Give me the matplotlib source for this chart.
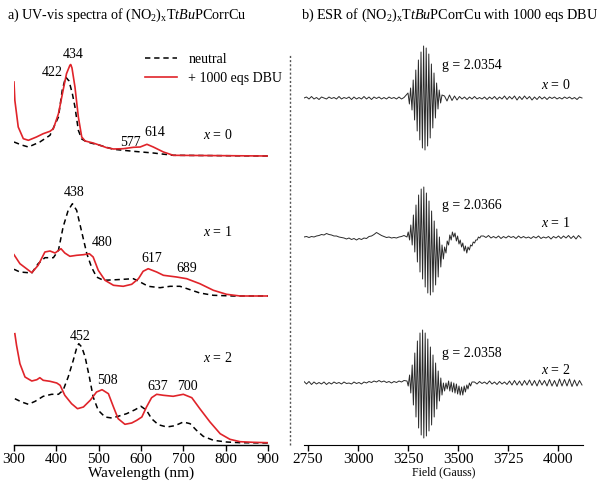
import numpy as np
import matplotlib
matplotlib.use("Agg")
import matplotlib.pyplot as plt
from matplotlib.lines import Line2D

plt.rcParams['font.family'] = ['Liberation Serif', 'DejaVu Serif']
plt.rcParams['mathtext.fontset'] = 'custom'
plt.rcParams['mathtext.rm'] = 'Liberation Serif'
plt.rcParams['mathtext.it'] = 'Liberation Serif:italic'

# ---- UV-vis (heights in arbitrary units above each trace baseline) ----
uv_offsets = [289, 149, 2]

wl_red_0 = [300, 302, 310, 322, 334, 353, 369, 385, 393, 405, 416, 424, 432, 434, 437,
            444, 452, 460, 468, 487, 503, 519, 535, 558, 582, 598, 614, 629, 653, 676, 900]
abs_red_0 = [74, 55.7, 29, 17.3, 15.7, 19, 22.3, 24.7, 27.3, 42.3, 65.7, 82.3, 90.7, 91.5, 88,
             69, 39, 19, 15, 13, 10.7, 8.3, 7, 7.3, 8.7, 9, 11.7, 9, 4, 0.7, 0]
wl_blk_0 = [300, 318, 334, 361, 385, 405, 414, 422, 430, 438, 444, 452, 460, 472, 503, 535, 582, 629, 676, 900]
abs_blk_0 = [14, 11, 9, 14, 20.7, 39, 66, 79, 75, 62, 49, 25.7, 17, 14, 10.7, 6.7, 4.7, 3, 0.7, 0]

wl_red_1 = [300, 314, 342, 357, 373, 385, 397, 411, 420, 432, 448, 464, 478, 487, 499, 515,
            535, 558, 578, 594, 605, 617, 637, 653, 684, 708, 739, 771, 802, 834, 900]
abs_red_1 = [41.3, 32.3, 23.3, 30.7, 44, 45, 43, 47.3, 43, 39.7, 40.7, 41.3, 42.3, 39, 25.7, 15.7,
             10.7, 9.7, 11.7, 17.3, 24.7, 27.3, 24, 20.7, 19, 17.3, 12.3, 5.7, 1.7, 0, 0]
wl_blk_1 = [300, 314, 342, 357, 373, 393, 405, 416, 428, 438, 448, 460, 472, 483, 495, 511,
            542, 582, 598, 617, 645, 669, 692, 716, 739, 771, 818, 900]
abs_blk_1 = [26.7, 24, 23, 32.3, 38.3, 38.3, 45.7, 69, 85.7, 92.3, 85.7, 64, 42.3, 29, 19, 15.7,
             16.3, 17.3, 14, 9.7, 8.3, 9.7, 9.7, 6.3, 3, 0.7, 0, 0]

wl_red_2 = [302, 306, 314, 326, 342, 354, 361, 369, 385, 401, 409, 420, 436, 450, 464, 480, 495,
            508, 523, 535, 546, 562, 578, 590, 602, 613, 625, 637, 653, 676, 700, 720, 739, 763,
            787, 810, 834, 865, 900]
abs_red_2 = [109.3, 97.7, 79.3, 66, 62, 63.3, 65.3, 62.7, 61.7, 60, 57.7, 47.7, 39.3, 34.3, 36, 42.7, 51,
             53.3, 49.3, 36, 24.3, 18.7, 20, 22.7, 26, 36, 45.3, 48.7, 47.7, 46.7, 48.7, 45.3, 34.3, 21,
             9.3, 3.7, 1.3, 0.7, 0.3]
wl_blk_2 = [302, 318, 334, 350, 369, 389, 405, 416, 428, 440, 448, 453, 460, 468, 478, 487, 499,
            515, 531, 546, 566, 586, 600, 613, 625, 641, 661, 680, 700, 716, 731, 747, 771, 802,
            834, 900]
abs_blk_2 = [44.3, 41, 38.7, 41.7, 46.7, 48.7, 48.7, 52.7, 66, 82.7, 95, 99.3, 96, 86, 66, 46, 32.7,
             26, 25, 26.7, 29.3, 33.3, 36.7, 32.7, 24.3, 18.3, 16, 17.3, 21, 19.3, 12.7, 6.7, 2.7, 1,
             0.3, 0]

uv_ticks = [300, 400, 500, 600, 700, 800, 900]

# peak labels: (text, wavelength, height on the axis scale)
uv_labels = [("434", 439, 390), ("422", 390, 372), ("577", 574, 303), ("614", 633, 312),
             ("438", 442, 252), ("480", 508, 202), ("617", 626, 187), ("689", 709, 177),
             ("452", 456, 109), ("508", 520, 64), ("637", 640, 58), ("700", 709, 59)]
uv_x_labels = [("$x$ = 0", 782, 310), ("$x$ = 1", 780, 213), ("$x$ = 2", 782, 87)]

# ---- ESR ----
esr_offsets = [347, 208, 62]
esr_step = 12.5
esr_start = 2730

esr_left_0 = [0, 1, -1, 1.5, -1, 0.5, -1.5, 1, 0, -1, 1, -0.5, 0.5, -1, 1.5, -1, 0.5, -0.5, 1, -1.5,
              1, -1, 0.5, -1, 1.5, -1, 1, -1.5, 1, -0.5, 1, -1, 0.5, -1, 1, -0.5, 0.5, -1, 1, -1, 0.5]
esr_burst_f_0 = [3250, 3257, 3263, 3270, 3276, 3283, 3289, 3296, 3302, 3309, 3315, 3322, 3328, 3335,
                 3341, 3348, 3354, 3361, 3367, 3374, 3380, 3387, 3393, 3400, 3406, 3413, 3420]
esr_burst_0 = [5, -6, 10, -12, 18, -22, 28, -33, 38, -42, 46, -50, 52, -52, 50, -48, 44, -40, 34,
               -30, 25, -20, 15, -11, 8, -5, 3]
esr_right_0 = [2, -3, 3, -2.5, 2, -2, 1.5, -1, 1, -1.5, 1, -1, 1.5, -1, 0.5, -1, 1, -1.5, 1, -1,
               1.5, -1.5, 1, -1, 2, -1.5, 1.5, -1, 2, -2, 1.5, -1.5, 2, -1, 1.5, -2, 1, -1.5, 1.5, -1,
               1, -1.5, 1, -0.5, 1, -1, 0.5, -1, 1, -0.5, 1, -1, 0.5, -1.5, 1, 0]

esr_left_1 = [0, 0.5, -0.5, 0.5, 0, 1, 1.5, 2.5, 2, 3.5, 2.5, 2, 1, 1, 0, -0.5, -1, -2, -1, -2.5,
              -1.5, -3, -1.5, -2.5, -1, -1.5, 0.5, 1, 2.5, 4.5, 3, 1.5, 0.5, -0.5, 0, -1, -0.5, -1,
              0, 0.5, 1.5]
esr_burst_f_1 = [3245, 3251, 3258, 3264, 3271, 3277, 3284, 3290, 3297, 3303, 3310, 3316, 3323, 3329,
                 3336, 3342, 3349, 3355, 3362, 3368, 3375, 3381, 3388, 3394, 3401, 3407, 3414, 3420,
                 3427, 3433, 3440, 3446, 3453, 3459, 3466, 3472, 3479, 3485, 3492, 3498, 3505, 3511,
                 3518, 3524, 3531, 3537, 3544, 3550, 3557, 3563, 3570, 3576, 3583, 3589, 3596, 3602,
                 3609, 3615]
esr_burst_1 = [0, 5, -3, 12, -8, 22, -15, 32, -25, 42, -35, 48, -42, 50, -50, 44, -56, 36, -58, 26,
               -55, 16, -48, 8, -40, 0, -30, -8, -22, -10, -16, -4, -8, 2, -3, 5, 0, 4, -4, 1, -7, -3,
               -10, -6, -14, -9, -16, -10, -13, -8, -9, -5, -6, -3, -3, 0, -1, 1]
esr_right_1 = [1, -0.5, 1.5, -1, 0.5, -1, 1, -1.5, 0.5, -1, 1, -0.5, 0.5, -1.5, 1, -1, 0.5, -1, 0,
               -1.5, 0.5, -1, 1, -1.5, 0, -1, 0.5, -2, 0.5, -1, 1, -1.5, 1, -1, 1.5, -1.5, 1, -2,
               1.5, -1]

esr_left_2 = [1.5, -1, 1.5, -1.5, 1, -1, 0.5, -1, 1, -1.5, 0.5, -1, 1, -0.5, 0.5, -1, 1, -0.5, 0,
              -1, 1, -0.5, 0.5, -1, 1, 0, 1.5, 0.5, 2, 1, 2.5, 1, 2, 0.5, 1.5, 0, 1.5, 0.5, 2, 1, 2.5]
esr_burst_f_2 = [3245, 3251, 3258, 3264, 3271, 3277, 3284, 3290, 3297, 3303, 3310, 3316, 3323, 3329,
                 3336, 3342, 3349, 3355, 3362, 3368, 3375, 3381, 3388, 3394, 3401, 3407, 3414, 3420,
                 3427, 3433, 3440, 3446, 3453, 3459, 3466, 3472, 3479, 3485, 3492, 3498, 3505, 3511,
                 3518, 3524, 3531, 3537, 3544, 3550, 3557, 3563, 3570]
esr_burst_2 = [2, -3, 8, -10, 18, -22, 30, -34, 42, -45, 50, -52, 53, -55, 50, -53, 44, -48, 36, -42,
               28, -34, 20, -26, 12, -18, 5, -12, 0, -8, 0, -6, 2, -8, 1, -9, 0, -10, -1, -11, -3,
               -12, -4, -12, -3, -9, -2, -6, 0, -3, 1]
esr_right_2 = [1, -1, 1.5, -0.5, 1, -1, 2, -1, 1, -1.5, 1.5, -1, 1, -1.5, 2, -2, 2.5, -2, 2, -2.5,
               2.5, -2, 3, -2.5, 2.5, -3, 3, -2, 2.5, -3, 3.5, -3, 2.5, -3.5, 4, -3, 3.5, -3, 4, -3.5,
               3, -3, 2.5, -2]

esr_ticks = [2750, 3000, 3250, 3500, 3750, 4000]
esr_tick_labels = ["2750", "3000", "3250", "3500", "3725", "4000"]
esr_g_labels = [("g = 2.0354", 3420, 380), ("g = 2.0366", 3420, 240), ("g = 2.0358", 3420, 92)]
esr_x_labels = [("$x$ = 0", 3990, 360), ("$x$ = 1", 3990, 222), ("$x$ = 2", 3990, 75)]

RED = '#e0242a'

fig = plt.figure(figsize=(6.0, 4.86), dpi=100)

# ---------- left panel ----------
ax1 = fig.add_axes([14 / 600, 41 / 486, 254 / 600, 405 / 486])
uv_red = [(wl_red_0, abs_red_0), (wl_red_1, abs_red_1), (wl_red_2, abs_red_2)]
uv_blk = [(wl_blk_0, abs_blk_0), (wl_blk_1, abs_blk_1), (wl_blk_2, abs_blk_2)]
for k in range(3):
    wb, ab = uv_blk[k]
    wr, ar = uv_red[k]
    ax1.plot(wb, np.array(ab) + uv_offsets[k], color='black', lw=1.1, ls=(0, (3.5, 2.5)),
             label='neutral' if k == 0 else None)
    ax1.plot(wr, np.array(ar) + uv_offsets[k], color=RED, lw=1.2,
             label='+ 1000 eqs DBU' if k == 0 else None)

for txt, wl, h in uv_labels:
    ax1.text(wl, h, txt, fontsize=10, ha='center', va='center')
for txt, wl, h in uv_x_labels:
    ax1.text(wl, h, txt, fontsize=10, ha='center', va='center')

ax1.legend(loc='upper left', bbox_to_anchor=(0.49, 0.985), frameon=False, fontsize=10,
           handlelength=2.3, handletextpad=0.8, labelspacing=0.45, borderpad=0)

ax1.set_xlim(300, 900)
ax1.set_ylim(0, 405)
ax1.set_xticks(uv_ticks)
ax1.set_yticks([])
for s in ['left', 'right', 'top']:
    ax1.spines[s].set_visible(False)
ax1.spines['bottom'].set_linewidth(1.0)
ax1.tick_params(axis='x', direction='out', length=4, width=1.0, labelsize=11, pad=2)
ax1.set_xlabel('Wavelength (nm)', fontsize=11, labelpad=0)
ax1.patch.set_alpha(0)

# ---------- right panel ----------
ax2 = fig.add_axes([304 / 600, 41 / 486, 279 / 600, 405 / 486])
esr_traces = [(esr_left_0, esr_burst_f_0, esr_burst_0, esr_right_0),
              (esr_left_1, esr_burst_f_1, esr_burst_1, esr_right_1),
              (esr_left_2, esr_burst_f_2, esr_burst_2, esr_right_2)]
for k, (left, bf, bv, right) in enumerate(esr_traces):
    f_left = esr_start + esr_step * np.arange(len(left))
    f_right = bf[-1] + esr_step * np.arange(1, len(right) + 1)
    field = np.concatenate([f_left, bf, f_right])
    sig = np.concatenate([left, bv, right]) + esr_offsets[k]
    ax2.plot(field, sig, color='#2a2a2a', lw=0.7)

for txt, f, h in esr_g_labels:
    ax2.text(f, h, txt, fontsize=10, ha='left', va='center')
for txt, f, h in esr_x_labels:
    ax2.text(f, h, txt, fontsize=10, ha='center', va='center')

ax2.set_xlim(2730, 4125)
ax2.set_ylim(0, 405)
ax2.set_xticks(esr_ticks)
ax2.set_xticklabels(esr_tick_labels)
ax2.set_yticks([])
for s in ['left', 'right', 'top']:
    ax2.spines[s].set_visible(False)
ax2.tick_params(axis='x', direction='out', length=4, width=1.0, labelsize=11, pad=2)
ax2.set_xlabel('Field (Gauss)', fontsize=8.5, labelpad=0)
ax2.patch.set_alpha(0)

# titles and separator
fig.text(7 / 600, 1 - 15 / 486, r'a) UV-vis spectra of (NO$_2$)$_\mathrm{x}$T$\it{tBu}$PCorrCu',
         fontsize=10.2, ha='left', va='center')
fig.text(301 / 600, 1 - 15 / 486, r'b) ESR of (NO$_2$)$_\mathrm{x}$T$\it{tBu}$PCorrCu with 1000 eqs DBU',
         fontsize=10.2, ha='left', va='center')
fig.add_artist(Line2D([290 / 600, 290 / 600], [41 / 486, 1 - 55 / 486], color='#555555',
                      lw=1.0, ls=(0, (1.5, 1.5))))

fig.savefig('out.png', dpi=100)
